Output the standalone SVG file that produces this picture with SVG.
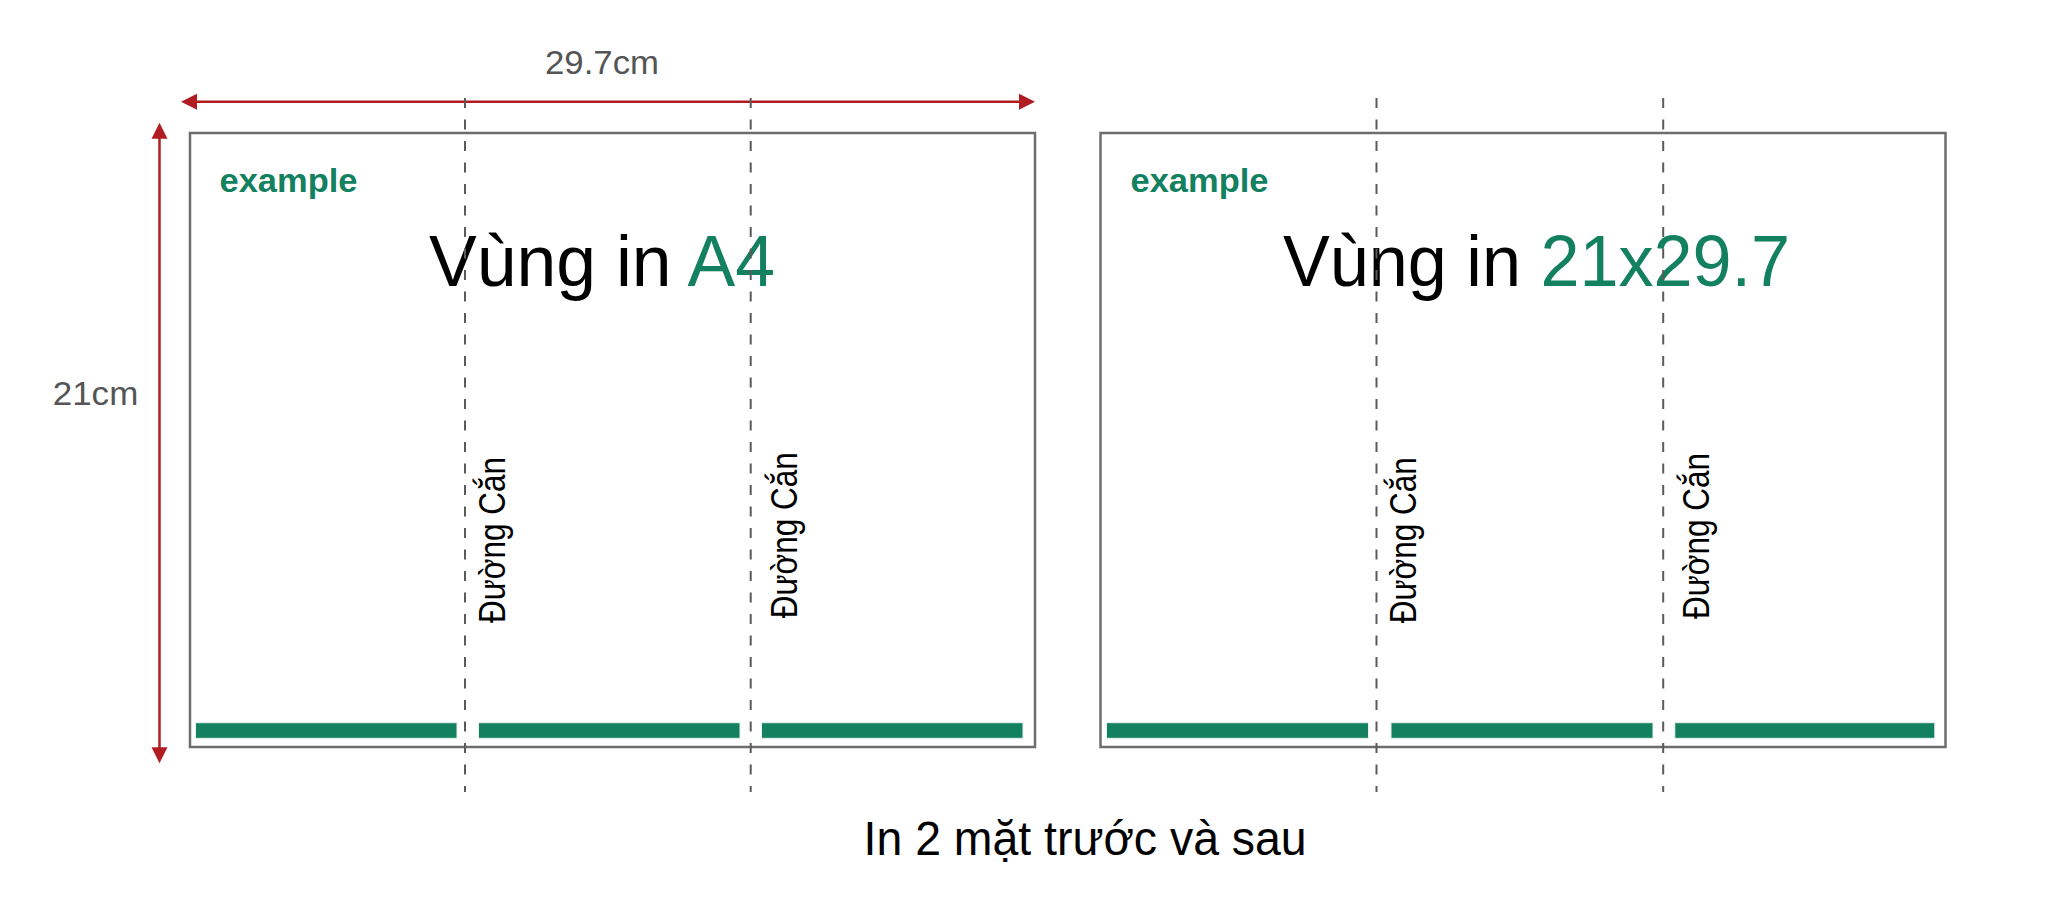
<svg xmlns="http://www.w3.org/2000/svg" width="2048" height="900" viewBox="0 0 2048 900">
  <style>
    .sheet { fill: #ffffff; stroke: #6d6d6d; stroke-width: 2.5; }
    .bar { fill: #138060; stroke: #e6f2ee; stroke-width: 1; }
    .cut { stroke: #5a5a5a; stroke-width: 2; stroke-dasharray: 10 11.5; fill: none; }
    .dim { stroke: #b01c22; stroke-width: 2.5; fill: none; }
    .head { fill: #b01c22; }
    .ex { font-family: "Liberation Sans", Arial, sans-serif; font-weight: bold; font-size: 34px; fill: #138060; }
    .title { font-family: "Liberation Sans", Arial, sans-serif; font-size: 72px; fill: #000000; }
    .green { fill: #138060; }
    .dimtext { font-family: "Liberation Sans", Arial, sans-serif; font-size: 34px; fill: #555555; }
    .cutlabel { font-family: "Liberation Sans", Arial, sans-serif; font-size: 36px; fill: #000000; }
    .caption { font-family: "Liberation Sans", Arial, sans-serif; font-size: 48px; fill: #000000; }
  </style>
  <rect width="2048" height="900" fill="#ffffff"/>

  <g id="dimensions">
    <line class="dim" x1="196" y1="101.7" x2="1020" y2="101.7"/>
    <polygon class="head" points="181,101.7 197,93.7 197,109.7"/>
    <polygon class="head" points="1035,101.7 1019,93.7 1019,109.7"/>
    <text class="dimtext" x="545" y="74.3" textLength="114" lengthAdjust="spacingAndGlyphs">29.7cm</text>
    <line class="dim" x1="159.5" y1="137.7" x2="159.5" y2="748"/>
    <polygon class="head" points="159.5,122.7 151.5,138.7 167.5,138.7"/>
    <polygon class="head" points="159.5,763.3 151.5,747.3 167.5,747.3"/>
    <text class="dimtext" x="52.7" y="405" textLength="85.6" lengthAdjust="spacingAndGlyphs">21cm</text>
  </g>

  <g id="sheet-front">
    <rect class="sheet" x="190" y="133" width="845" height="614"/>
    <text class="ex" x="219.5" y="191.5" textLength="138" lengthAdjust="spacingAndGlyphs">example</text>
    <text class="title" x="429" y="286" textLength="346" lengthAdjust="spacingAndGlyphs">Vùng in <tspan class="green">A4</tspan></text>
    <rect class="bar" x="195.5" y="722.7" width="261.5" height="15.6"/>
    <rect class="bar" x="478.5" y="722.7" width="261.5" height="15.6"/>
    <rect class="bar" x="761.5" y="722.7" width="261.5" height="15.6"/>
    <text class="cutlabel" transform="translate(505.2,623) rotate(-90)" textLength="166" lengthAdjust="spacingAndGlyphs">Đường Cắn</text>
    <text class="cutlabel" transform="translate(797,618.3) rotate(-90)" textLength="166" lengthAdjust="spacingAndGlyphs">Đường Cắn</text>
  </g>

  <g id="sheet-back">
    <rect class="sheet" x="1100.5" y="133" width="845" height="614"/>
    <text class="ex" x="1130.5" y="191.5" textLength="138" lengthAdjust="spacingAndGlyphs">example</text>
    <text class="title" x="1283" y="286" textLength="507" lengthAdjust="spacingAndGlyphs">Vùng in <tspan class="green">21x29.7</tspan></text>
    <rect class="bar" x="1106.5" y="722.7" width="262" height="15.6"/>
    <rect class="bar" x="1391" y="722.7" width="262" height="15.6"/>
    <rect class="bar" x="1674.8" y="722.7" width="260" height="15.6"/>
    <text class="cutlabel" transform="translate(1415.6,623.3) rotate(-90)" textLength="166" lengthAdjust="spacingAndGlyphs">Đường Cắn</text>
    <text class="cutlabel" transform="translate(1709.3,619) rotate(-90)" textLength="166" lengthAdjust="spacingAndGlyphs">Đường Cắn</text>
  </g>

  <g id="cut-lines">
    <line class="cut" x1="465" y1="98" x2="465" y2="792"/>
    <line class="cut" x1="750.7" y1="98" x2="750.7" y2="792"/>
    <line class="cut" x1="1376.5" y1="98" x2="1376.5" y2="792"/>
    <line class="cut" x1="1663.2" y1="98" x2="1663.2" y2="792"/>
  </g>

  <g id="caption">
    <text class="caption" x="863.6" y="855" textLength="443" lengthAdjust="spacingAndGlyphs">In 2 mặt trước và sau</text>
  </g>
</svg>
